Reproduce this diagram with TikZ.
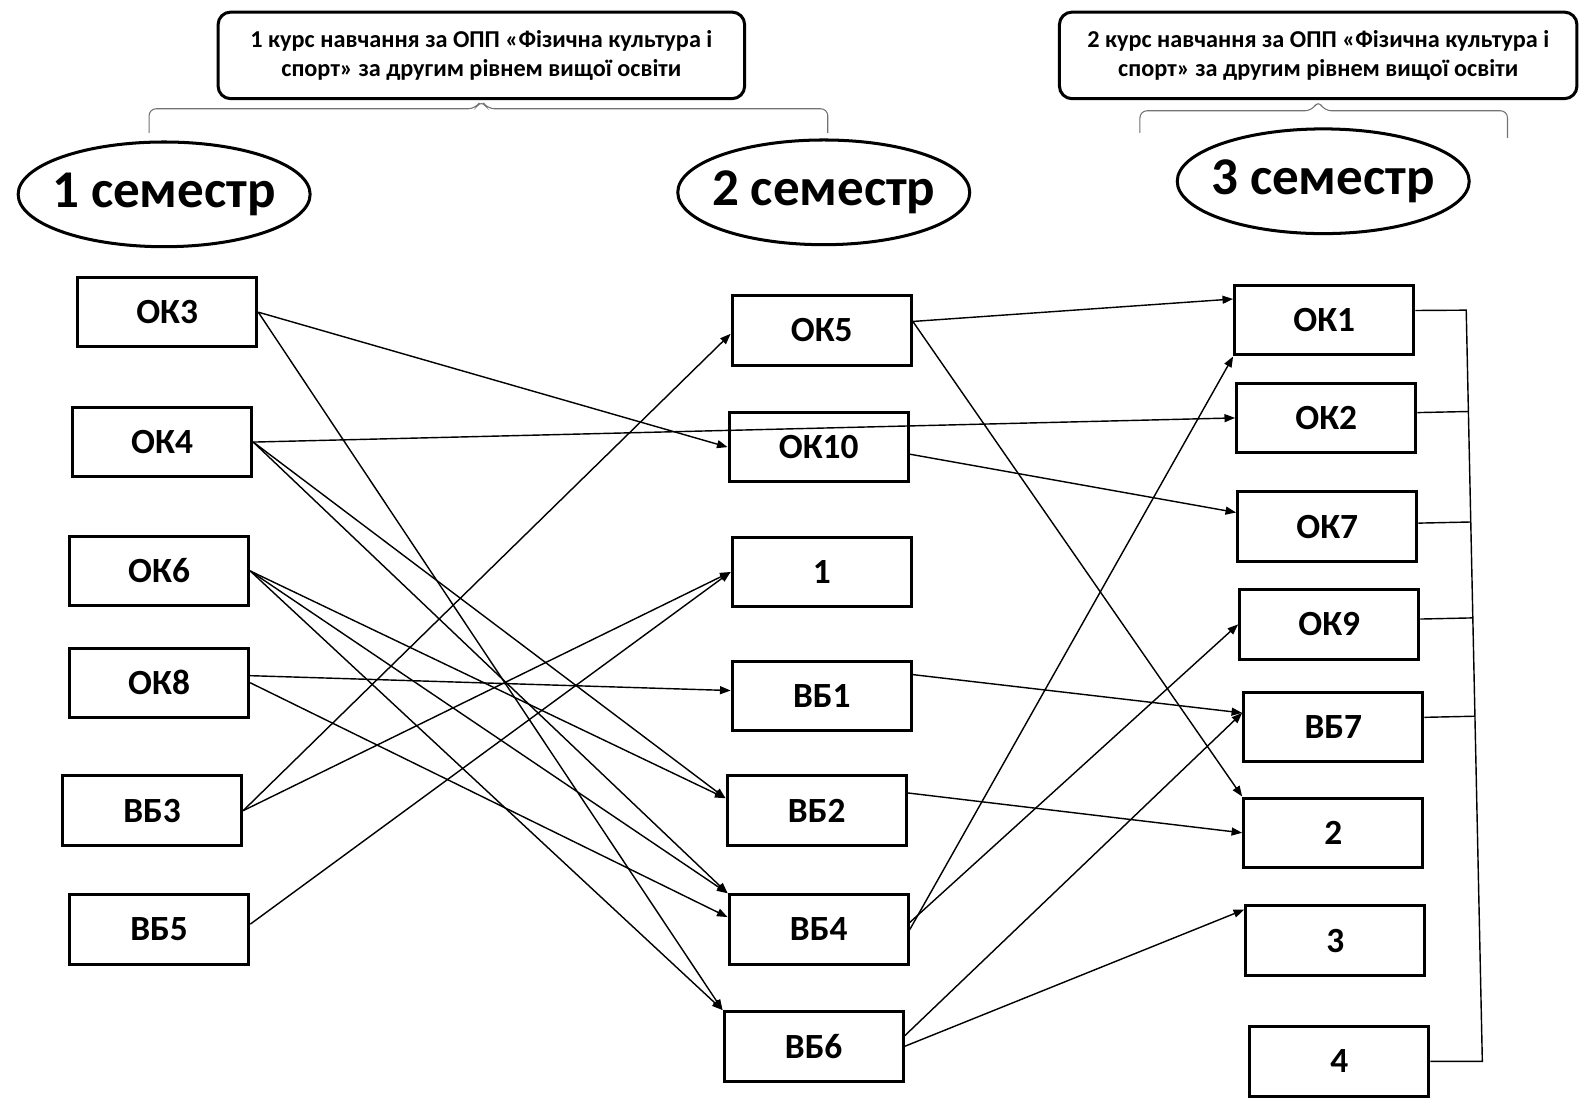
\documentclass[tikz,border=0pt]{standalone}
\usepackage{fontspec}
\setmainfont{Carlito}
\usetikzlibrary{arrows.meta,shapes.geometric,calc}
\tikzset{
  basenode/.style = {align=center, inner sep=0pt, text centered},
  disc_u/.style = {basenode, rectangle, draw=black, minimum width=3.56cm, minimum height=1.38cm, line width=0.6mm, font=\fontsize{20}{24}\selectfont\bfseries},
  sem_u/.style = {basenode, ellipse, draw=black, inner xsep=-0.3cm, minimum width=5.8cm, minimum height=2.08cm, line width=0.6mm, font=\fontsize{30}{36}\selectfont\bfseries},
  kurs_u/.style = {basenode, rectangle, rounded corners=0.25cm, draw=black, minimum height=1.72cm, line width=0.6mm, font=\fontsize{13.7}{16.5}\selectfont\bfseries},
  link/.style = {line width=0.8pt, -{Triangle[length=6pt,width=4.5pt]}},
  brace_l/.style = {draw=black!55, line width=0.6pt, rounded corners=4pt},
  side_l/.style = {line width=0.8pt},
}

\begin{document}
\begin{tikzpicture}[x=0.02cm, y=-0.02cm]
  \fill [white] (0,0) rectangle (1568,1091);
  \useasboundingbox (0,0) rectangle (1568,1091);

  % courses and semesters
  \node [kurs_u, minimum width=10.46cm] (kurs1) at (478,55) {1 курс навчання за ОПП «Фізична культура і\\спорт» за другим рівнем вищої освіти};
  \node [kurs_u, minimum width=10.28cm] (kurs2) at (1309,55) {2 курс навчання за ОПП «Фізична культура і\\спорт» за другим рівнем вищої освіти};
  \node [sem_u] (sem1) at (163,193) {1 семестр};
  \node [sem_u] (sem2) at (818,191) {2 семестр};
  \node [sem_u] (sem3) at (1314,180) {3 семестр};

  \draw [brace_l] (148,132) -- (148,108) -- (472,108) -- (kurs1.south) -- (484,108) -- (822,108) -- (822,132);
  \draw [brace_l] (1132,132) -- (1132,110) -- (1303,110) -- (kurs2.south) -- (1315,110) -- (1497,110) -- (1497,137);

  % 1 semester
  \node [disc_u] (ok3) at (166,310) {ОК3};
  \node [disc_u] (ok4) at (161,439) {ОК4};
  \node [disc_u] (ok6) at (158,567) {ОК6};
  \node [disc_u] (ok8) at (158,678) {ОК8};
  \node [disc_u] (vb3) at (151,805) {ВБ3};
  \node [disc_u] (vb5) at (158,923) {ВБ5};

  % 2 semester
  \node [disc_u] (ok5) at (816,328) {ОК5};
  \node [disc_u] (ok10) at (813,444) {ОК10};
  \node [disc_u] (n1) at (816,568) {1};
  \node [disc_u] (vb1) at (816,691) {ВБ1};
  \node [disc_u] (vb2) at (811,805) {ВБ2};
  \node [disc_u] (vb4) at (813,923) {ВБ4};
  \node [disc_u] (vb6) at (808,1039) {ВБ6};

  % 3 semester
  \node [disc_u] (ok1) at (1315,318) {ОК1};
  \node [disc_u] (ok2) at (1317,415) {ОК2};
  \node [disc_u] (ok7) at (1318,523) {ОК7};
  \node [disc_u] (ok9) at (1320,620) {ОК9};
  \node [disc_u] (vb7) at (1324,722) {ВБ7};
  \node [disc_u] (n2) at (1324,827) {2};
  \node [disc_u] (n3) at (1326,934) {3};
  \node [disc_u] (n4) at (1330,1054) {4};

  % links 1 -> 2
  \draw [link] (ok3.east) -- (ok10.west);
  \draw [link] (ok3.east) -- (vb6.north west);
  \draw [link] (ok4.east) -- (ok2.west);
  \draw [link] (ok4.east) -- ([yshift=7pt]vb2.west);
  \draw [link] (ok4.east) -- (vb4.north west);
  \draw [link] (ok6.east) -- ([yshift=7pt]vb2.west);
  \draw [link] (ok6.east) -- (vb4.north west);
  \draw [link] (ok6.east) -- (vb6.north west);
  \draw [link] ([yshift=4pt]ok8.east) -- ([yshift=3pt]vb1.west);
  \draw [link] (ok8.east) -- ([yshift=7pt]vb4.west);
  \draw [link] (vb3.east) -- ([yshift=-2pt]ok5.west);
  \draw [link] (vb3.east) -- (n1.west);
  \draw [link] ([yshift=3pt]vb5.east) -- (n1.west);

  % links 2 -> 3
  \draw [link] ([yshift=5pt]ok5.east) -- ([yshift=12pt]ok1.west);
  \draw [link] ([yshift=5pt]ok5.east) -- (n2.north west);
  \draw [link] ([yshift=-4pt]ok10.east) -- ([yshift=8pt]ok7.west);
  \draw [link] ([yshift=12pt]vb1.east) -- ([yshift=8pt]vb7.west);
  \draw [link] ([yshift=10pt]vb2.east) -- (n2.west);
  \draw [link] (vb4.east) -- (ok1.south west);
  \draw [link] ([yshift=4pt]vb4.east) -- (ok9.west);
  \draw [link] ([yshift=6pt]vb6.east) -- ([yshift=8pt]vb7.west);
  \draw [link] (vb6.east) -- ([yshift=-3pt]n3.north west);

  % right side line
  \coordinate (rtop) at (1456,308);
  \coordinate (rbot) at (1472,1054);
  \draw [side_l] ([yshift=5.5pt]ok1.east) -- (rtop) -- (rbot) -- (n4.east);
  \draw [side_l] ([yshift=3pt]ok2.east) -- ($(rtop)!([yshift=3pt]ok2.east)!(rbot)$);
  \draw [side_l] ([yshift=2pt]ok7.east) -- ($(rtop)!([yshift=2pt]ok7.east)!(rbot)$);
  \draw [side_l] ([yshift=3pt]ok9.east) -- ($(rtop)!([yshift=3pt]ok9.east)!(rbot)$);
  \draw [side_l] ([yshift=5.5pt]vb7.east) -- ($(rtop)!([yshift=5.5pt]vb7.east)!(rbot)$);
\end{tikzpicture}
\end{document}
